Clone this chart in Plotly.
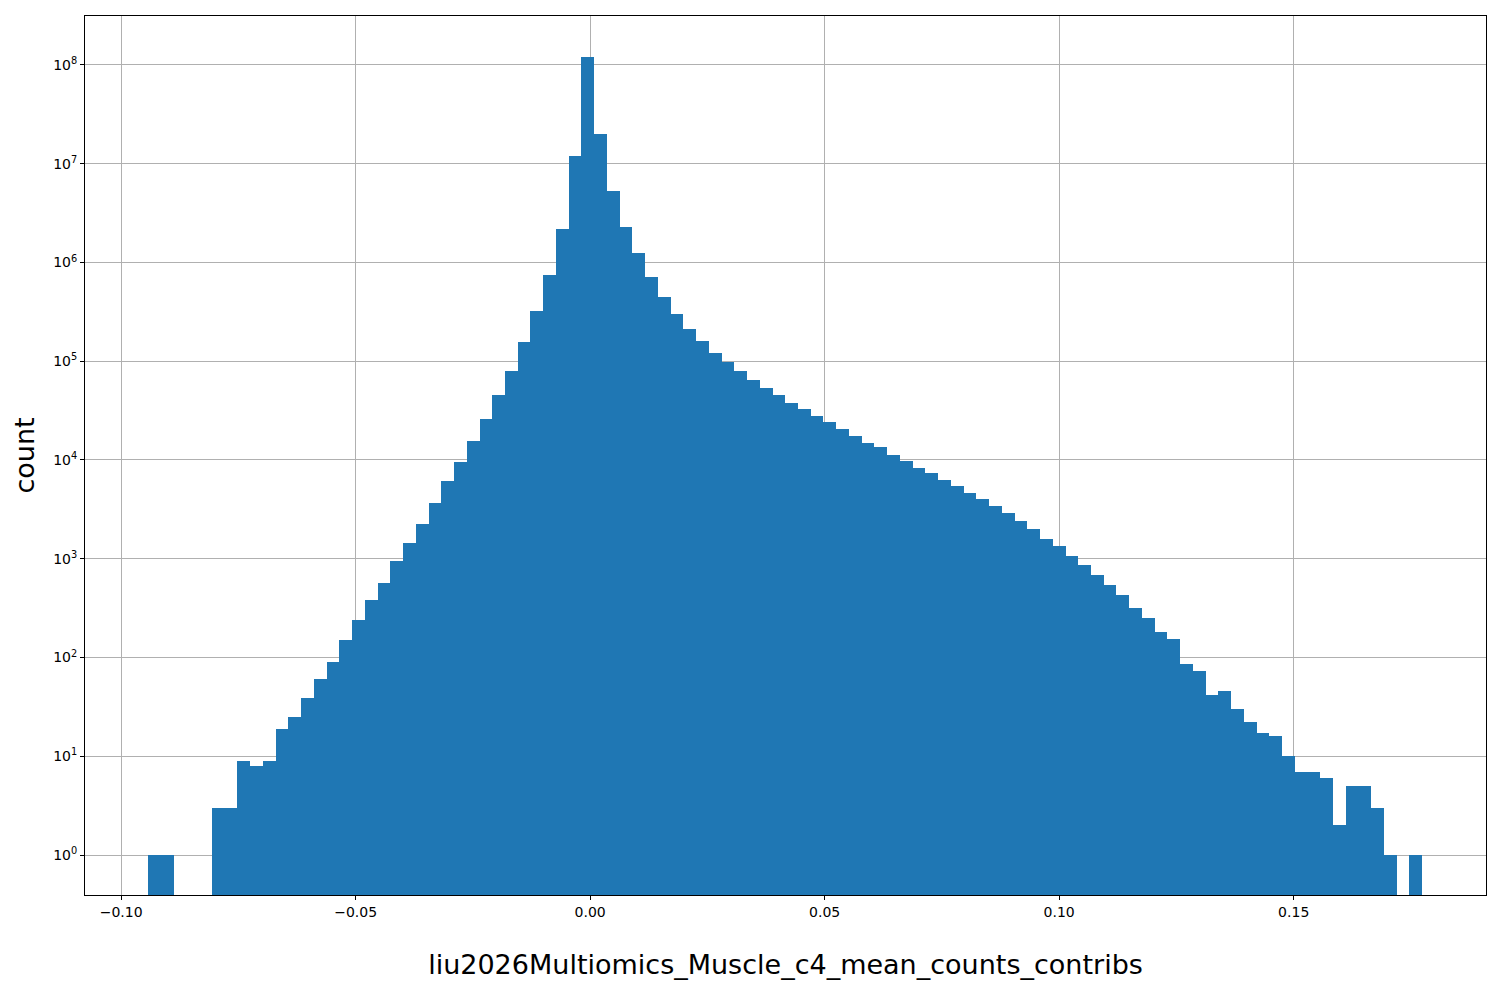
import numpy as np
import plotly.graph_objects as go

# histogram bins (100 bins between min and max)
x_min = -0.0942
x_max = 0.1774
counts = [
    1, 1, 0, 0, 0, 3, 3, 9, 8, 9,
    19, 25, 39, 61, 90, 150, 240, 380, 570, 950,
    1450, 2250, 3700, 6100, 9500, 15500, 26000, 45000, 80000, 155000,
    320000, 740000, 2.2e6, 1.2e7, 1.2e8, 2.0e7, 5.3e6, 2.3e6, 1.25e6, 7.1e5,
    4.5e5, 3.0e5, 2.1e5, 1.6e5, 1.22e5, 9.8e4, 7.9e4, 6.5e4, 5.4e4, 4.6e4,
    3.8e4, 3.3e4, 2.8e4, 2.45e4, 2.05e4, 1.75e4, 1.5e4, 1.35e4, 1.12e4, 9.8e3,
    8.3e3, 7.3e3, 6.3e3, 5.5e3, 4.6e3, 4.0e3, 3.4e3, 2.9e3, 2.4e3, 2.0e3,
    1.6e3, 1.35e3, 1.07e3, 870, 690, 540, 430, 320, 250, 180,
    155, 85, 73, 42, 46, 30, 22, 17, 16, 10,
    7, 7, 6, 2, 5, 5, 3, 1, 0, 1,
]
x_ticks = [-0.10, -0.05, 0.0, 0.05, 0.10, 0.15]
x_ticklabels = ["\u22120.10", "\u22120.05", "0.00", "0.05", "0.10", "0.15"]
y_ticks = [10 ** k for k in range(9)]
y_ticklabels = ["10<sup>%d</sup>" % k for k in range(9)]

n = len(counts)
w = (x_max - x_min) / n
centers = x_min + w * (np.arange(n) + 0.5)
ys = [c if c > 0 else None for c in counts]

fig = go.Figure(go.Bar(x=centers, y=ys, width=w, marker=dict(color="#1f77b4", line=dict(width=0))))

axis_common = dict(showline=True, linecolor="black", linewidth=1, mirror=True,
                   showgrid=True, gridcolor="#b0b0b0", gridwidth=1,
                   ticks="outside", ticklen=4, tickcolor="black",
                   tickfont=dict(size=14, color="black"), zeroline=False)

fig.update_layout(
    width=1500, height=1000,
    paper_bgcolor="white", plot_bgcolor="white",
    margin=dict(l=77, r=22, t=8, b=113),
    bargap=0, showlegend=False,
    font=dict(family="DejaVu Sans", color="black"),
    xaxis=dict(range=[-0.1077, 0.1910], tickvals=x_ticks, ticktext=x_ticklabels,
               title=dict(text="liu2026Multiomics_Muscle_c4_mean_counts_contribs", font=dict(size=27), standoff=36),
               **axis_common),
    yaxis=dict(type="log", range=[-0.405, 8.496], tickvals=y_ticks, ticktext=y_ticklabels,
               title=dict(text="count", font=dict(size=27), standoff=10),
               **axis_common),
)

fig.write_html("out.html")
